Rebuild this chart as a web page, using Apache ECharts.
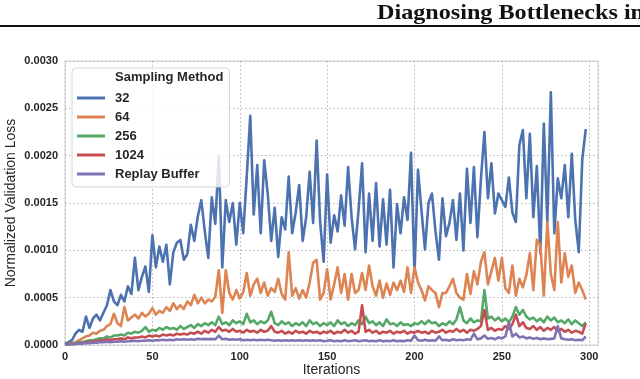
<!DOCTYPE html>
<html>
<head>
<meta charset="utf-8">
<script src="https://cdn.jsdelivr.net/npm/echarts@6/dist/echarts.min.js"></script>
<style>
  html, body { margin: 0; padding: 0; background: #fff; }
  #chart { width: 640px; height: 379px; }
</style>
</head>
<body>
<div id="chart"></div>
<script>
// one value every ITER_STEP iterations, in units of 1e-4 (normalized validation loss)
const ITER_STEP = 2;
const seriesNames = ['32', '64', '256', '1024', 'Replay Buffer'];
const colors = ['#4c72b0', '#dd8452', '#55a868', '#c44e52', '#8172b3'];

const loss32 = [
  0.1, 0.3, 0.5, 1.2, 1.6, 1.4, 3.0, 1.8, 2.8, 3.2,
  2.6, 3.4, 4.2, 5.8, 4.6, 4.2, 5.3, 4.6, 6.2, 5.4,
  9.2, 5.8, 7.2, 8.3, 5.6, 11.6, 8.2, 10.4, 8.8, 10.6,
  6.4, 9.8, 10.8, 11.1, 9.0, 9.6, 12.7, 11.0, 13.6, 15.3,
  12.0, 9.2, 15.6, 12.8, 19.9, 8.2, 15.3, 13.0, 15.0, 10.6,
  15.0, 11.8, 17.8, 24.2, 13.8, 19.0, 11.8, 19.5, 16.0, 11.0,
  14.5, 9.3, 13.5, 12.2, 17.8, 11.8, 14.0, 16.9, 11.0, 13.5,
  18.3, 12.9, 21.6, 13.0, 8.8, 18.0, 10.8, 13.7, 12.0, 15.8,
  12.6, 18.8, 13.5, 10.1, 14.3, 19.2, 9.8, 16.0, 11.0, 17.1,
  10.4, 15.4, 10.6, 16.4, 8.2, 14.9, 11.8, 15.6, 13.2, 20.3,
  7.6, 18.5, 14.2, 10.1, 15.0, 16.0, 12.0, 9.0, 15.5, 11.5,
  12.9, 15.3, 11.1, 16.0, 10.0, 18.6, 12.9, 18.8, 11.4, 17.5,
  22.5, 15.5, 19.2, 13.9, 16.0, 15.3, 14.6, 17.7, 14.0, 13.0,
  21.1, 22.7, 15.5, 22.3, 13.5, 18.9, 9.7, 23.4, 13.0, 26.7,
  11.8, 17.6, 15.5, 19.0, 13.5, 20.2, 13.2, 9.8, 19.6, 22.8
];

const loss64 = [
  0.0, 0.1, 0.2, 0.3, 0.5, 0.7, 0.9, 1.0, 1.3, 1.2,
  1.5, 1.6, 2.0, 2.2, 3.3, 2.3, 2.0, 4.0, 2.6, 2.9,
  3.2, 2.8, 3.4, 3.0, 3.3, 3.9, 3.2, 3.6, 3.4, 4.0,
  3.6, 4.4, 3.8, 4.2, 3.8, 4.6, 4.2, 5.3, 4.4, 5.0,
  4.4, 4.8, 4.6, 5.1, 7.9, 3.4, 7.9, 5.5, 4.8, 5.8,
  4.9, 5.6, 7.6, 5.2, 6.4, 7.0, 5.5, 6.6, 5.2, 6.0,
  5.6, 7.0, 5.4, 4.8, 9.8, 5.2, 6.0, 4.9, 5.8, 5.0,
  6.6, 8.7, 9.0, 4.8, 5.5, 8.0, 4.8, 6.4, 8.2, 5.5,
  7.5, 4.8, 7.5, 5.5, 5.8, 7.6, 5.8, 8.4, 6.2, 5.2,
  6.8, 5.0, 6.5, 5.3, 6.6, 5.8, 6.8, 5.6, 8.2, 5.5,
  8.2, 6.6, 5.8, 4.7, 6.2, 5.8, 5.5, 4.0, 5.5, 5.5,
  6.2, 7.0, 5.5, 5.0, 4.8, 7.5, 5.4, 7.8, 6.4, 8.8,
  9.8, 6.4, 7.8, 9.2, 6.8, 9.2, 6.0, 5.5, 8.4, 5.2,
  7.0, 6.1, 7.4, 9.7, 5.8, 11.1, 10.6, 5.2, 13.0, 7.5,
  5.8, 13.0, 6.6, 9.7, 7.2, 8.4, 5.5, 6.6, 5.8, 4.8
];

const loss256 = [
  0.0, 0.1, 0.1, 0.2, 0.3, 0.3, 0.4, 0.5, 0.5, 0.6,
  0.7, 0.7, 0.9, 0.8, 1.0, 1.0, 1.1, 1.0, 1.3, 1.2,
  1.4, 1.3, 1.5, 1.9, 1.4, 1.6, 1.5, 1.8, 1.6, 1.9,
  1.7, 1.8, 1.6, 2.0, 1.7, 1.9, 2.1, 1.8, 2.2, 2.0,
  2.3, 2.1, 2.4, 2.1, 3.0, 2.2, 2.4, 2.1, 2.6, 2.3,
  2.5, 2.2, 3.3, 2.4, 2.6, 2.2, 2.5, 2.3, 2.6, 3.5,
  2.3, 2.1, 2.5, 2.2, 2.4, 2.0, 2.3, 2.1, 2.4, 2.0,
  2.6, 2.2, 2.4, 2.0, 2.3, 2.1, 2.4, 2.0, 2.6, 2.2,
  2.4, 2.0, 2.3, 2.1, 2.6, 2.2, 3.0, 2.3, 2.5, 2.1,
  2.4, 2.0, 2.7, 2.2, 2.3, 2.0, 2.4, 2.1, 2.2, 2.0,
  2.3, 2.2, 2.5, 2.2, 2.6, 2.3, 2.4, 2.0, 2.3, 2.1,
  2.5, 2.2, 2.7, 4.0, 2.6, 2.3, 2.8, 2.4, 2.6, 2.5,
  5.8, 2.8, 3.0, 2.6, 2.9, 2.5, 2.8, 2.4, 3.0, 4.0,
  3.2, 3.7, 3.0, 2.7, 2.9, 2.5, 2.8, 2.4, 3.0, 2.6,
  2.9, 2.4, 2.6, 2.3, 2.7, 2.2, 2.6, 2.3, 2.0, 2.4
];

const loss1024 = [
  0.0, 0.1, 0.1, 0.1, 0.2, 0.2, 0.3, 0.3, 0.4, 0.4,
  0.5, 0.5, 0.6, 0.5, 0.6, 0.6, 0.7, 0.6, 0.8, 0.7,
  0.8, 0.8, 0.9, 0.8, 1.0, 0.9, 1.0, 0.9, 1.1, 1.0,
  1.1, 1.0, 1.2, 1.1, 1.2, 1.1, 1.3, 1.2, 1.4, 1.2,
  1.5, 1.3, 1.6, 1.4, 1.9, 1.5, 1.6, 1.4, 1.7, 1.4,
  1.5, 1.3, 1.6, 1.4, 1.5, 1.3, 1.6, 1.4, 1.5, 2.0,
  1.4, 1.3, 1.5, 1.2, 1.4, 1.2, 1.5, 1.3, 1.4, 1.2,
  1.5, 1.3, 1.4, 1.2, 1.4, 1.3, 1.5, 1.2, 1.4, 1.3,
  1.6, 1.3, 1.5, 1.2, 1.4, 4.2, 1.4, 1.6, 1.3, 1.5,
  1.2, 1.4, 1.3, 1.5, 1.2, 1.4, 1.3, 1.5, 1.2, 1.4,
  1.3, 1.5, 1.3, 1.4, 1.2, 1.5, 1.3, 1.4, 1.6, 1.3,
  1.5, 1.4, 1.7, 1.4, 1.6, 1.3, 1.6, 1.5, 1.7, 2.0,
  3.7, 1.6, 1.8, 1.5, 1.7, 1.6, 2.0, 1.7, 2.2, 3.2,
  2.0, 2.4, 1.8, 1.7, 2.0, 1.6, 1.9, 1.5, 1.8, 1.6,
  1.9, 1.5, 1.7, 1.4, 1.6, 1.3, 1.5, 1.4, 1.2, 2.3
];

const lossReplay = [
  0.0, 0.05, 0.1, 0.1, 0.15, 0.15, 0.2, 0.2, 0.25, 0.25,
  0.3, 0.3, 0.35, 0.3, 0.35, 0.35, 0.4, 0.35, 0.4, 0.4,
  0.45, 0.4, 0.45, 0.45, 0.5, 0.45, 0.5, 0.5, 0.55, 0.5,
  0.55, 0.5, 0.6, 0.55, 0.6, 0.55, 0.6, 0.55, 0.65, 0.6,
  0.65, 0.6, 0.65, 0.6, 1.0, 0.6, 0.65, 0.55, 0.6, 0.55,
  0.6, 0.5, 0.55, 0.5, 0.55, 0.5, 0.55, 0.5, 0.55, 0.5,
  0.45, 0.5, 0.45, 0.5, 0.45, 0.5, 0.45, 0.5, 0.45, 0.5,
  0.45, 0.5, 0.45, 0.5, 0.4, 0.45, 0.5, 0.4, 0.45, 0.4,
  0.5, 0.4, 0.45, 0.5, 0.4, 0.45, 0.5, 0.4, 0.45, 0.4,
  0.5, 0.4, 0.45, 0.4, 0.5, 0.4, 0.45, 0.4, 0.5, 0.45,
  1.0, 0.5, 0.45, 0.55, 0.45, 0.5, 0.45, 0.9, 0.5, 0.55,
  0.45, 0.6, 0.5, 0.55, 0.5, 0.6, 0.55, 1.2, 0.6, 0.7,
  1.0, 0.65, 0.75, 0.6, 0.8, 0.7, 0.9, 2.4, 0.9, 1.2,
  0.8, 0.9, 0.7, 0.8, 0.65, 0.75, 0.6, 0.7, 0.6, 0.65,
  0.7, 2.0, 0.7, 0.6, 0.55, 0.6, 0.5, 0.55, 0.5, 0.9
];

const xTicks = [0, 50, 100, 150, 200, 250, 300];
const yTicks = [0, 0.0005, 0.001, 0.0015, 0.002, 0.0025, 0.003];

const allLoss = [loss32, loss64, loss256, loss1024, lossReplay];
const toPoints = (arr) => arr.map((v, i) => [i * ITER_STEP, v * 1e-4]);

const textColor = '#262626';
const font = 'Liberation Sans, Arial, sans-serif';
const gridLine = { lineStyle: { color: '#b4b4b4', width: 1, type: [1.5, 2.5] } };

const chart = echarts.init(document.getElementById('chart'));
chart.setOption({
  animation: false,
  color: colors,
  textStyle: { fontFamily: font },
  title: {
    text: 'Sampling Method',
    left: 115,
    top: 71,
    padding: 0,
    z: 10,
    textStyle: { fontSize: 13, fontWeight: 'bold', color: textColor, fontFamily: font }
  },
  legend: {
    orient: 'vertical',
    left: 72,
    top: 68,
    padding: [23, 30, 6, 5],
    itemGap: 5,
    itemWidth: 28,
    itemHeight: 3,
    icon: 'rect',
    selectedMode: false,
    backgroundColor: 'rgba(255,255,255,0.82)',
    borderColor: '#d6d6d6',
    borderWidth: 1,
    borderRadius: 4,
    data: seriesNames,
    textStyle: {
      fontSize: 13, fontWeight: 'bold', color: textColor, fontFamily: font,
      lineHeight: 14, padding: [0, 0, 0, 5]
    }
  },
  graphic: [
    {
      type: 'text',
      left: 377,
      top: 3,
      scaleX: 1.15,
      style: {
        text: 'Diagnosing Bottlenecks in',
        font: 'bold 21px "Liberation Serif", "Times New Roman", serif',
        fill: '#111'
      }
    },
    {
      type: 'rect',
      shape: { x: 0, y: 25, width: 640, height: 2 },
      style: { fill: '#111' }
    }
  ],
  grid: {
    left: 65, right: 42, top: 61, bottom: 34,
    show: true, borderColor: '#cfcfcf', borderWidth: 1,
    containLabel: false,
    outerBoundsMode: 'none'
  },
  xAxis: {
    type: 'value',
    min: 0,
    max: 305,
    interval: 50,
    name: 'Iterations',
    nameLocation: 'middle',
    nameGap: 18,
    nameMoveOverlap: false,
    nameTextStyle: { fontSize: 14, color: textColor, fontFamily: font },
    axisLine: { show: false },
    axisTick: { show: false },
    axisLabel: {
      margin: 6, fontSize: 11, fontWeight: 'bold', color: textColor,
      showMaxLabel: false,
      formatter: (v) => (xTicks.includes(v) ? String(v) : '')
    },
    splitLine: { show: true, ...gridLine }
  },
  yAxis: {
    type: 'value',
    min: 0,
    max: 0.003,
    interval: 0.0005,
    name: 'Normalized Validation Loss',
    nameLocation: 'middle',
    nameGap: 47,
    nameMoveOverlap: false,
    nameTextStyle: { fontSize: 14, color: textColor, fontFamily: font },
    axisLine: { show: false },
    axisTick: { show: false },
    axisLabel: {
      margin: 7, fontSize: 11, fontWeight: 'bold', color: textColor,
      formatter: (v) => {
        const hit = yTicks.find((t) => Math.abs(t - v) < 1e-9);
        return hit === undefined ? '' : hit.toFixed(4);
      }
    },
    splitLine: { show: true, ...gridLine }
  },
  series: seriesNames.map((name, k) => ({
    name,
    type: 'line',
    data: toPoints(allLoss[k]),
    symbol: 'none',
    clip: true,
    lineStyle: { width: 2.6, color: colors[k], join: 'round' },
    itemStyle: { color: colors[k] },
    emphasis: { disabled: true }
  }))
});
</script>
</body>
</html>
